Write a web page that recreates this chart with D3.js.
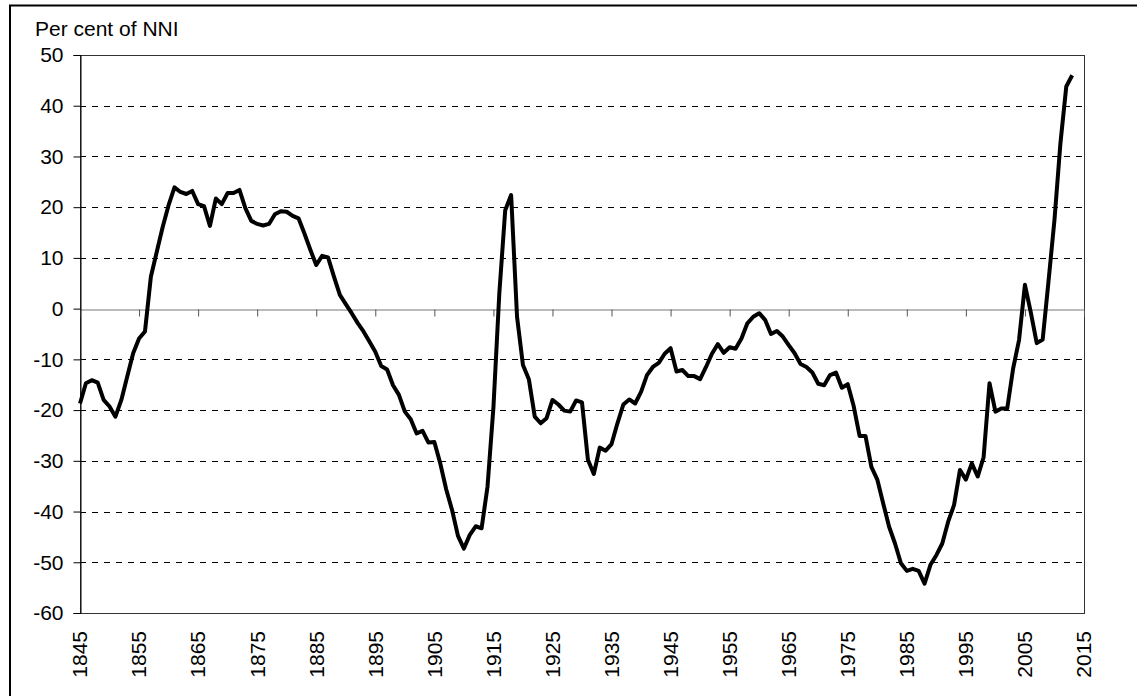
<!DOCTYPE html>
<html>
<head>
<meta charset="utf-8">
<script src="https://cdn.jsdelivr.net/npm/d3@7"></script>
<style>
  body { margin: 0; background: #fff; }
  svg { display: block; font-family: 'Liberation Sans', Arial, sans-serif; }
</style>
</head>
<body>
<svg id="chart" width="1137" height="696"></svg>
<script>
const years = d3.range(1845, 2014)

// per cent of NNI
const values = [
  -18.7, -14.7, -14.1, -14.6, -18.0, -19.3, -21.3, -18.0, -13.4, -8.8,
  -5.9, -4.5, 6.3, 11.2, 16.1, 20.4, 23.9, 23.0, 22.6, 23.2,
  20.6, 20.2, 16.3, 21.7, 20.6, 22.8, 22.8, 23.4, 19.8, 17.3,
  16.7, 16.4, 16.7, 18.6, 19.2, 19.1, 18.3, 17.8, 14.8, 11.6,
  8.6, 10.4, 10.1, 6.3, 2.7, 0.9, -0.9, -2.8, -4.5, -6.5,
  -8.5, -11.3, -12.0, -15.1, -17.0, -20.3, -21.8, -24.6, -24.1, -26.4,
  -26.3, -30.5, -35.6, -39.7, -44.8, -47.3, -44.6, -42.9, -43.3, -35.1,
  -19.5, 3.0, 19.4, 22.4, -1.6, -11.1, -13.9, -21.3, -22.6, -21.6,
  -18.0, -18.9, -20.1, -20.3, -18.1, -18.5, -29.8, -32.6, -27.4, -28.0,
  -26.7, -22.6, -18.9, -17.9, -18.7, -16.4, -13.1, -11.5, -10.7, -8.9,
  -7.8, -12.4, -12.1, -13.3, -13.3, -13.9, -11.5, -8.9, -7.0, -8.7,
  -7.6, -7.9, -5.9, -2.9, -1.6, -0.9, -2.2, -5.0, -4.4, -5.5,
  -7.2, -8.8, -10.9, -11.5, -12.6, -14.8, -15.1, -13.1, -12.6, -15.6,
  -14.9, -19.2, -25.1, -25.1, -31.2, -33.7, -38.4, -43.0, -46.3, -50.2,
  -51.7, -51.3, -51.7, -54.2, -50.5, -48.6, -46.3, -42.0, -38.7, -31.8,
  -33.7, -30.5, -33.1, -29.3, -14.7, -20.3, -19.7, -19.7, -11.8, -6.2,
  4.7, -0.8, -6.8, -6.1, 5.5, 17.5, 32.5, 43.8, 46.0
]

const xTicks = d3.range(1845, 2016, 10)
const yTicks = d3.range(-60, 51, 10)
const yTitle = 'Per cent of NNI'

const svg = d3.select('#chart')
const plot = { left: 80, right: 1084, top: 55, bottom: 613 }
const fontSize = 21

const x = d3.scaleLinear().domain([1845, 2015]).range([plot.left, plot.right])
const y = d3.scaleLinear().domain([-60, 50]).range([plot.bottom, plot.top])

// outer frame, cut off by the picture on the right and bottom
svg.append('rect')
  .attr('x', 10).attr('y', 5.5)
  .attr('width', 1140).attr('height', 700)
  .attr('fill', 'none').attr('stroke', '#000').attr('stroke-width', 2)

// dashed gridlines
svg.append('g')
  .selectAll('line')
  .data(yTicks.filter(d => d !== 0 && d !== 50 && d !== -60))
  .join('line')
  .attr('x1', plot.left).attr('x2', plot.right)
  .attr('y1', d => Math.round(y(d)) + 0.5).attr('y2', d => Math.round(y(d)) + 0.5)
  .attr('stroke', '#000').attr('stroke-width', 1)
  .attr('stroke-dasharray', '6,6')

// plot area border
svg.append('rect')
  .attr('x', plot.left + 0.5).attr('y', plot.top + 0.5)
  .attr('width', plot.right - plot.left).attr('height', plot.bottom - plot.top)
  .attr('fill', 'none').attr('stroke', '#333').attr('stroke-width', 1)

// x axis sits on zero
const xAxis = svg.append('g')
  .attr('transform', `translate(0,${Math.round(y(0)) + 0.5})`)
  .call(d3.axisBottom(x).tickValues(xTicks).tickSize(7).tickFormat(''))
xAxis.select('.domain').attr('stroke', '#777')
xAxis.selectAll('.tick line').attr('stroke', '#555')

// x labels, turned on their side below the plot
svg.append('g')
  .selectAll('text')
  .data(xTicks)
  .join('text')
  .attr('transform', d => `translate(${x(d)},631) rotate(-90)`)
  .attr('dy', '0.35em')
  .attr('text-anchor', 'end')
  .attr('font-size', fontSize)
  .text(d => d)

// y axis, plain hyphen for the minus like the original
const yAxis = svg.append('g')
  .attr('transform', `translate(${plot.left + 0.5},0)`)
  .call(d3.axisLeft(y).tickValues(yTicks).tickSize(7).tickPadding(10).tickFormat(d => String(d)))
yAxis.select('.domain').attr('stroke', '#000')
yAxis.selectAll('.tick line').attr('stroke', '#000')
yAxis.selectAll('.tick text')
  .attr('font-size', fontSize)
  .attr('font-family', "'Liberation Sans', Arial, sans-serif")
  .attr('fill', '#000')

svg.append('text')
  .attr('x', 35).attr('y', 36)
  .attr('font-size', fontSize)
  .text(yTitle)

// the series
const line = d3.line()
  .x((d, i) => x(years[i]))
  .y(d => y(d))

svg.append('path')
  .datum(values)
  .attr('d', line)
  .attr('fill', 'none')
  .attr('stroke', '#000')
  .attr('stroke-width', 4)
  .attr('stroke-linejoin', 'round')
</script>
</body>
</html>
